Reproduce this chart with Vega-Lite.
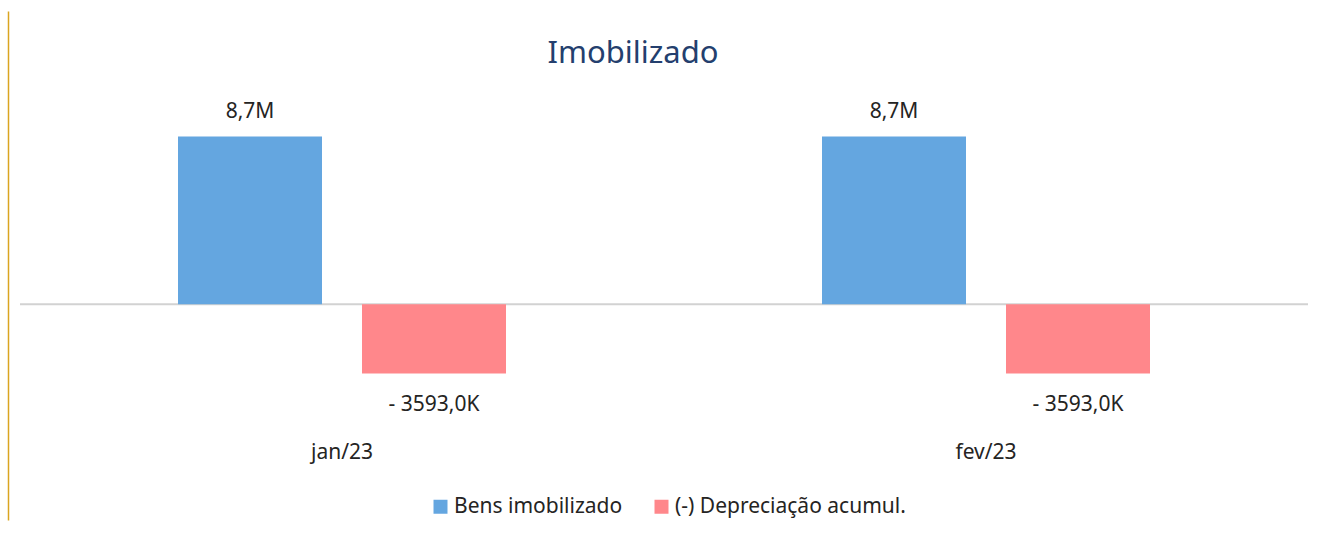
{
  "$schema": "https://vega.github.io/schema/vega-lite/v6.json",
  "width": 1288,
  "height": 509,
  "autosize": {"type": "none"},
  "padding": {"left": 20, "top": 11, "right": 19, "bottom": 14},
  "background": "white",
  "config": {"view": {"stroke": null}, "font": "Noto Sans"},
  "title": {
    "text": "Imobilizado",
    "fontSize": 31,
    "fontWeight": "normal",
    "color": "#243F6E",
    "font": "Noto Sans",
    "anchor": "middle",
    "baseline": "alphabetic",
    "offset": -83,
    "dx": -31
  },
  "data": {
    "values": [
      {"mes": "jan/23", "serie": "Bens imobilizado", "valor": 8700000, "rotulo": "8,7M"},
      {"mes": "jan/23", "serie": "(-) Depreciação acumul.", "valor": -3593000, "rotulo": "- 3593,0K"},
      {"mes": "fev/23", "serie": "Bens imobilizado", "valor": 8700000, "rotulo": "8,7M"},
      {"mes": "fev/23", "serie": "(-) Depreciação acumul.", "valor": -3593000, "rotulo": "- 3593,0K"}
    ]
  },
  "layer": [
    {
      "data": {"values": [{"zero": 0}]},
      "mark": {"type": "rule", "color": "#D2D2D2", "strokeWidth": 2},
      "encoding": {
        "y": {"field": "zero", "type": "quantitative", "scale": {"domain": [-11180000, 15200000], "nice": false, "zero": false},
          "axis": {"title": null, "labels": false, "ticks": false, "grid": false, "domain": true, "domainColor": "#DAA520", "domainWidth": 1.5, "offset": 12}}
      }
    },
    {
      "mark": {"type": "bar"},
      "encoding": {
        "x": {"field": "mes", "type": "nominal", "sort": ["jan/23", "fev/23"], "scale": {"paddingInner": 0, "paddingOuter": 0},
          "axis": {"title": null, "domain": false, "ticks": false, "labelFontSize": 21, "labelColor": "#252423", "labelPadding": 2, "labelAngle": 0, "offset": -81}},
        "xOffset": {"field": "serie", "type": "nominal", "sort": ["Bens imobilizado", "(-) Depreciação acumul."], "scale": {"paddingInner": 0.2174, "paddingOuter": 0.8587}},
        "y": {"field": "valor", "type": "quantitative"},
        "color": {"field": "serie", "type": "nominal",
          "scale": {"domain": ["Bens imobilizado", "(-) Depreciação acumul."], "range": ["#64A6E0", "#FF878B"]},
          "legend": {"title": null, "orient": "none", "legendX": 410, "legendY": 485, "direction": "horizontal", "symbolType": "square", "symbolSize": 196, "symbolStrokeWidth": 0, "symbolOpacity": 1, "labelFontSize": 21, "labelColor": "#252423", "labelOffset": 3, "columnPadding": 28, "labelLimit": 400}}
      }
    },
    {
      "transform": [{"filter": "datum.valor > 0"}],
      "mark": {"type": "text", "baseline": "alphabetic", "dy": -18, "fontSize": 21, "color": "#252423"},
      "encoding": {
        "x": {"field": "mes", "type": "nominal", "sort": ["jan/23", "fev/23"]},
        "xOffset": {"field": "serie", "type": "nominal", "sort": ["Bens imobilizado", "(-) Depreciação acumul."]},
        "y": {"field": "valor", "type": "quantitative"},
        "text": {"field": "rotulo"}
      }
    },
    {
      "transform": [{"filter": "datum.valor < 0"}],
      "mark": {"type": "text", "baseline": "alphabetic", "dy": 37, "fontSize": 21, "color": "#252423"},
      "encoding": {
        "x": {"field": "mes", "type": "nominal", "sort": ["jan/23", "fev/23"]},
        "xOffset": {"field": "serie", "type": "nominal", "sort": ["Bens imobilizado", "(-) Depreciação acumul."]},
        "y": {"field": "valor", "type": "quantitative"},
        "text": {"field": "rotulo"}
      }
    }
  ]
}
